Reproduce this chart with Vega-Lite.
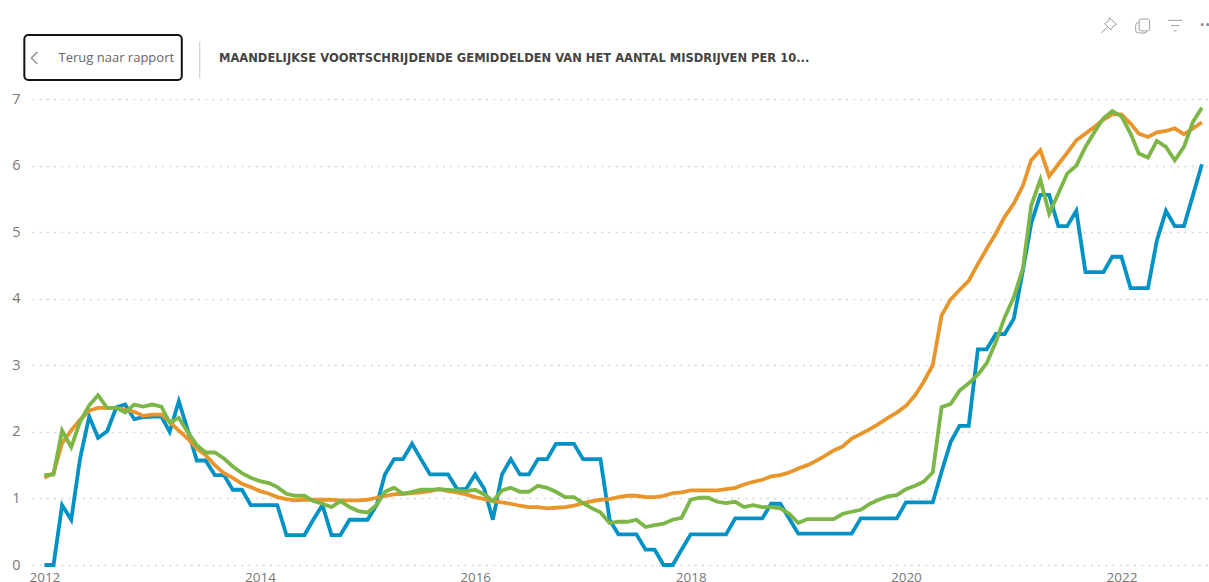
{
"$schema":"https://vega.github.io/schema/vega-lite/v6.json",
"width":1177,"height":466,
"autosize":{"type":"none"},
"padding":{"left":32,"top":99,"right":0,"bottom":17},
"background":"white",
"title":{"text":"MAANDELIJKSE VOORTSCHRIJDENDE GEMIDDELDEN VAN HET AANTAL MISDRIJVEN PER 10...","anchor":"start","frame":"group","dx":187,"offset":-49,"font":"DejaVu Sans","fontSize":11.5,"fontWeight":"bold","color":"#444444"},
"config":{"view":{"stroke":null}},
"layer":[
{
"data":{"values":[
{"date":"2012-01-01","Blauw":0,"Oranje":1.31,"Groen":1.35},
{"date":"2012-02-01","Blauw":0,"Oranje":1.38,"Groen":1.36},
{"date":"2012-03-01","Blauw":0.9,"Oranje":1.83,"Groen":2.02},
{"date":"2012-04-01","Blauw":0.68,"Oranje":2.02,"Groen":1.77},
{"date":"2012-05-01","Blauw":1.6,"Oranje":2.18,"Groen":2.15},
{"date":"2012-06-01","Blauw":2.23,"Oranje":2.32,"Groen":2.4},
{"date":"2012-07-01","Blauw":1.91,"Oranje":2.36,"Groen":2.55},
{"date":"2012-08-01","Blauw":2.01,"Oranje":2.36,"Groen":2.36},
{"date":"2012-09-01","Blauw":2.37,"Oranje":2.36,"Groen":2.36},
{"date":"2012-10-01","Blauw":2.41,"Oranje":2.33,"Groen":2.29},
{"date":"2012-11-01","Blauw":2.19,"Oranje":2.3,"Groen":2.41},
{"date":"2012-12-01","Blauw":2.22,"Oranje":2.24,"Groen":2.38},
{"date":"2013-01-01","Blauw":2.23,"Oranje":2.26,"Groen":2.41},
{"date":"2013-02-01","Blauw":2.23,"Oranje":2.26,"Groen":2.38},
{"date":"2013-03-01","Blauw":2.0,"Oranje":2.15,"Groen":2.14},
{"date":"2013-04-01","Blauw":2.46,"Oranje":2.02,"Groen":2.21},
{"date":"2013-05-01","Blauw":2.03,"Oranje":1.9,"Groen":2.0},
{"date":"2013-06-01","Blauw":1.57,"Oranje":1.75,"Groen":1.8},
{"date":"2013-07-01","Blauw":1.57,"Oranje":1.65,"Groen":1.69},
{"date":"2013-08-01","Blauw":1.35,"Oranje":1.5,"Groen":1.69},
{"date":"2013-09-01","Blauw":1.35,"Oranje":1.38,"Groen":1.6},
{"date":"2013-10-01","Blauw":1.13,"Oranje":1.31,"Groen":1.48},
{"date":"2013-11-01","Blauw":1.13,"Oranje":1.22,"Groen":1.38},
{"date":"2013-12-01","Blauw":0.9,"Oranje":1.17,"Groen":1.31},
{"date":"2014-01-01","Blauw":0.9,"Oranje":1.11,"Groen":1.26},
{"date":"2014-02-01","Blauw":0.9,"Oranje":1.07,"Groen":1.23},
{"date":"2014-03-01","Blauw":0.9,"Oranje":1.02,"Groen":1.17},
{"date":"2014-04-01","Blauw":0.45,"Oranje":0.99,"Groen":1.07},
{"date":"2014-05-01","Blauw":0.45,"Oranje":0.97,"Groen":1.04},
{"date":"2014-06-01","Blauw":0.45,"Oranje":0.98,"Groen":1.04},
{"date":"2014-07-01","Blauw":0.68,"Oranje":0.98,"Groen":0.96},
{"date":"2014-08-01","Blauw":0.9,"Oranje":0.98,"Groen":0.92},
{"date":"2014-09-01","Blauw":0.45,"Oranje":0.98,"Groen":0.87},
{"date":"2014-10-01","Blauw":0.45,"Oranje":0.97,"Groen":0.96},
{"date":"2014-11-01","Blauw":0.68,"Oranje":0.97,"Groen":0.87},
{"date":"2014-12-01","Blauw":0.68,"Oranje":0.97,"Groen":0.81},
{"date":"2015-01-01","Blauw":0.68,"Oranje":0.98,"Groen":0.79},
{"date":"2015-02-01","Blauw":0.9,"Oranje":1.01,"Groen":0.9},
{"date":"2015-03-01","Blauw":1.36,"Oranje":1.04,"Groen":1.1},
{"date":"2015-04-01","Blauw":1.59,"Oranje":1.06,"Groen":1.16},
{"date":"2015-05-01","Blauw":1.59,"Oranje":1.07,"Groen":1.07},
{"date":"2015-06-01","Blauw":1.82,"Oranje":1.08,"Groen":1.1},
{"date":"2015-07-01","Blauw":1.59,"Oranje":1.09,"Groen":1.13},
{"date":"2015-08-01","Blauw":1.36,"Oranje":1.11,"Groen":1.13},
{"date":"2015-09-01","Blauw":1.36,"Oranje":1.14,"Groen":1.14},
{"date":"2015-10-01","Blauw":1.36,"Oranje":1.11,"Groen":1.13},
{"date":"2015-11-01","Blauw":1.14,"Oranje":1.09,"Groen":1.12},
{"date":"2015-12-01","Blauw":1.14,"Oranje":1.06,"Groen":1.11},
{"date":"2016-01-01","Blauw":1.36,"Oranje":1.02,"Groen":1.13},
{"date":"2016-02-01","Blauw":1.14,"Oranje":0.99,"Groen":1.06},
{"date":"2016-03-01","Blauw":0.68,"Oranje":0.96,"Groen":0.96},
{"date":"2016-04-01","Blauw":1.36,"Oranje":0.94,"Groen":1.12},
{"date":"2016-05-01","Blauw":1.59,"Oranje":0.92,"Groen":1.16},
{"date":"2016-06-01","Blauw":1.36,"Oranje":0.89,"Groen":1.1},
{"date":"2016-07-01","Blauw":1.36,"Oranje":0.87,"Groen":1.1},
{"date":"2016-08-01","Blauw":1.59,"Oranje":0.87,"Groen":1.19},
{"date":"2016-09-01","Blauw":1.59,"Oranje":0.85,"Groen":1.16},
{"date":"2016-10-01","Blauw":1.82,"Oranje":0.86,"Groen":1.1},
{"date":"2016-11-01","Blauw":1.82,"Oranje":0.87,"Groen":1.02},
{"date":"2016-12-01","Blauw":1.82,"Oranje":0.89,"Groen":1.02},
{"date":"2017-01-01","Blauw":1.59,"Oranje":0.93,"Groen":0.93},
{"date":"2017-02-01","Blauw":1.59,"Oranje":0.96,"Groen":0.85},
{"date":"2017-03-01","Blauw":1.59,"Oranje":0.98,"Groen":0.79},
{"date":"2017-04-01","Blauw":0.68,"Oranje":0.99,"Groen":0.63},
{"date":"2017-05-01","Blauw":0.46,"Oranje":1.02,"Groen":0.65},
{"date":"2017-06-01","Blauw":0.46,"Oranje":1.04,"Groen":0.65},
{"date":"2017-07-01","Blauw":0.46,"Oranje":1.04,"Groen":0.68},
{"date":"2017-08-01","Blauw":0.23,"Oranje":1.02,"Groen":0.57},
{"date":"2017-09-01","Blauw":0.23,"Oranje":1.02,"Groen":0.6},
{"date":"2017-10-01","Blauw":0,"Oranje":1.04,"Groen":0.62},
{"date":"2017-11-01","Blauw":0,"Oranje":1.08,"Groen":0.68},
{"date":"2017-12-01","Blauw":0.23,"Oranje":1.09,"Groen":0.71},
{"date":"2018-01-01","Blauw":0.46,"Oranje":1.12,"Groen":0.98},
{"date":"2018-02-01","Blauw":0.46,"Oranje":1.12,"Groen":1.01},
{"date":"2018-03-01","Blauw":0.46,"Oranje":1.12,"Groen":1.01},
{"date":"2018-04-01","Blauw":0.46,"Oranje":1.12,"Groen":0.95},
{"date":"2018-05-01","Blauw":0.46,"Oranje":1.14,"Groen":0.93},
{"date":"2018-06-01","Blauw":0.7,"Oranje":1.16,"Groen":0.95},
{"date":"2018-07-01","Blauw":0.7,"Oranje":1.21,"Groen":0.87},
{"date":"2018-08-01","Blauw":0.7,"Oranje":1.25,"Groen":0.9},
{"date":"2018-09-01","Blauw":0.7,"Oranje":1.28,"Groen":0.87},
{"date":"2018-10-01","Blauw":0.92,"Oranje":1.33,"Groen":0.87},
{"date":"2018-11-01","Blauw":0.92,"Oranje":1.35,"Groen":0.85},
{"date":"2018-12-01","Blauw":0.7,"Oranje":1.39,"Groen":0.77},
{"date":"2019-01-01","Blauw":0.47,"Oranje":1.45,"Groen":0.63},
{"date":"2019-02-01","Blauw":0.47,"Oranje":1.5,"Groen":0.69},
{"date":"2019-03-01","Blauw":0.47,"Oranje":1.56,"Groen":0.69},
{"date":"2019-04-01","Blauw":0.47,"Oranje":1.64,"Groen":0.69},
{"date":"2019-05-01","Blauw":0.47,"Oranje":1.72,"Groen":0.69},
{"date":"2019-06-01","Blauw":0.47,"Oranje":1.78,"Groen":0.77},
{"date":"2019-07-01","Blauw":0.47,"Oranje":1.9,"Groen":0.8},
{"date":"2019-08-01","Blauw":0.7,"Oranje":1.97,"Groen":0.83},
{"date":"2019-09-01","Blauw":0.7,"Oranje":2.04,"Groen":0.92},
{"date":"2019-10-01","Blauw":0.7,"Oranje":2.12,"Groen":0.98},
{"date":"2019-11-01","Blauw":0.7,"Oranje":2.21,"Groen":1.03},
{"date":"2019-12-01","Blauw":0.7,"Oranje":2.29,"Groen":1.05},
{"date":"2020-01-01","Blauw":0.94,"Oranje":2.39,"Groen":1.14},
{"date":"2020-02-01","Blauw":0.94,"Oranje":2.55,"Groen":1.19},
{"date":"2020-03-01","Blauw":0.94,"Oranje":2.75,"Groen":1.25},
{"date":"2020-04-01","Blauw":0.94,"Oranje":3.0,"Groen":1.39},
{"date":"2020-05-01","Blauw":1.4,"Oranje":3.75,"Groen":2.37},
{"date":"2020-06-01","Blauw":1.85,"Oranje":3.99,"Groen":2.42},
{"date":"2020-07-01","Blauw":2.09,"Oranje":4.13,"Groen":2.62},
{"date":"2020-08-01","Blauw":2.09,"Oranje":4.27,"Groen":2.73},
{"date":"2020-09-01","Blauw":3.24,"Oranje":4.52,"Groen":2.86},
{"date":"2020-10-01","Blauw":3.24,"Oranje":4.75,"Groen":3.03},
{"date":"2020-11-01","Blauw":3.47,"Oranje":4.98,"Groen":3.35},
{"date":"2020-12-01","Blauw":3.47,"Oranje":5.23,"Groen":3.72},
{"date":"2021-01-01","Blauw":3.7,"Oranje":5.43,"Groen":4.02},
{"date":"2021-02-01","Blauw":4.43,"Oranje":5.7,"Groen":4.46},
{"date":"2021-03-01","Blauw":5.13,"Oranje":6.08,"Groen":5.4},
{"date":"2021-04-01","Blauw":5.56,"Oranje":6.23,"Groen":5.79},
{"date":"2021-05-01","Blauw":5.56,"Oranje":5.84,"Groen":5.28},
{"date":"2021-06-01","Blauw":5.09,"Oranje":6.02,"Groen":5.58},
{"date":"2021-07-01","Blauw":5.09,"Oranje":6.19,"Groen":5.88},
{"date":"2021-08-01","Blauw":5.32,"Oranje":6.38,"Groen":6.0},
{"date":"2021-09-01","Blauw":4.4,"Oranje":6.48,"Groen":6.28},
{"date":"2021-10-01","Blauw":4.4,"Oranje":6.58,"Groen":6.5},
{"date":"2021-11-01","Blauw":4.4,"Oranje":6.69,"Groen":6.71},
{"date":"2021-12-01","Blauw":4.63,"Oranje":6.77,"Groen":6.82},
{"date":"2022-01-01","Blauw":4.63,"Oranje":6.77,"Groen":6.74},
{"date":"2022-02-01","Blauw":4.16,"Oranje":6.63,"Groen":6.48},
{"date":"2022-03-01","Blauw":4.16,"Oranje":6.48,"Groen":6.18},
{"date":"2022-04-01","Blauw":4.16,"Oranje":6.43,"Groen":6.12},
{"date":"2022-05-01","Blauw":4.87,"Oranje":6.5,"Groen":6.37},
{"date":"2022-06-01","Blauw":5.32,"Oranje":6.52,"Groen":6.28},
{"date":"2022-07-01","Blauw":5.09,"Oranje":6.56,"Groen":6.08},
{"date":"2022-08-01","Blauw":5.09,"Oranje":6.47,"Groen":6.28},
{"date":"2022-09-01","Blauw":5.56,"Oranje":6.56,"Groen":6.66},
{"date":"2022-10-01","Blauw":6.02,"Oranje":6.65,"Groen":6.87}
]},
"transform":[{"fold":["Blauw","Oranje","Groen"],"as":["reeks","waarde"]}],
"mark":{"type":"line","strokeWidth":3.8,"strokeJoin":"miter","clip":false},
"encoding":{
"x":{"field":"date","type":"temporal",
"scale":{"type":"utc","domain":[{"year":2011,"month":11,"date":20,"utc":true},{"year":2022,"month":10,"date":25,"utc":true}]},
"axis":{"title":null,"grid":false,"domain":false,"ticks":false,"tickCount":{"interval":"year","step":2},"labelExpr":"utcFormat(datum.value,'%Y')","labelFont":"Open Sans","labelFontSize":13.5,"labelColor":"#777777","labelPadding":5,"labelBaseline":"top","labelFlush":false,"labelOverlap":false}},
"y":{"field":"waarde","type":"quantitative",
"scale":{"domain":[0,7],"nice":false,"zero":true},
"axis":{"title":null,"domain":false,"ticks":false,"values":[0,1,2,3,4,5,6,7],"format":"d","labelFont":"Open Sans","labelFontSize":14.5,"labelColor":"#777777","labelPadding":12,"grid":true,"gridColor":"#d4d4d4","gridWidth":1.6,"gridDash":[2,5.2]}},
"color":{"field":"reeks","type":"nominal","legend":null,"sort":["Blauw","Oranje","Groen"],"scale":{"domain":["Blauw","Oranje","Groen"],"range":["#0091C5","#E8952C","#7BB646"]}},
"order":{"field":"date","type":"temporal"}
}
},
{
"data":{"values":[{"knop":"Terug naar rapport"}]},
"mark":{"type":"rect","fill":"white","stroke":"#111111","strokeWidth":2,"cornerRadius":4,"clip":false},
"encoding":{
"x":{"datum":{"year":2011,"month":10,"date":25,"utc":true},"type":"temporal"},
"x2":{"datum":{"year":2013,"month":4,"date":11,"utc":true}},
"y":{"datum":7.96,"type":"quantitative"},
"y2":{"datum":7.285}
}
},
{
"data":{"values":[{"knop":"Terug naar rapport"}]},
"mark":{"type":"text","font":"Open Sans","fontSize":13,"color":"#666666","align":"center","baseline":"middle","clip":false},
"encoding":{
"text":{"field":"knop"},
"x":{"datum":{"year":2012,"month":9,"date":1,"utc":true},"type":"temporal"},
"y":{"datum":7.616,"type":"quantitative"}
}
},
{
"data":{"values":[{"icoon":"terug"}]},
"mark":{"type":"point","shape":"M0.5,-1L-0.5,0L0.5,1","size":144,"filled":false,"stroke":"#555555","strokeWidth":1.2,"clip":false},
"encoding":{
"x":{"datum":{"year":2011,"month":11,"date":28,"utc":true},"type":"temporal"},
"y":{"datum":7.616,"type":"quantitative"}
}
},
{
"data":{"values":[{"icoon":"scheiding"}]},
"mark":{"type":"rule","stroke":"#c8c8c8","strokeWidth":1,"clip":false},
"encoding":{
"x":{"datum":{"year":2013,"month":6,"date":11,"utc":true},"type":"temporal"},
"y":{"datum":7.856,"type":"quantitative"},
"y2":{"datum":7.316}
}
},
{
"data":{"values":[{"icoon":"speld"}]},
"mark":{"type":"point","shape":"M0.15,-1L1,-0.2L0.6,0L0.3,0.5L-0.5,-0.3L0,-0.6ZM-0.15,0.15L-0.9,0.9","size":256,"filled":false,"stroke":"#777777","strokeWidth":1,"clip":false},
"encoding":{
"x":{"datum":{"year":2021,"month":11,"date":18,"utc":true},"type":"temporal"},
"y":{"datum":8.097,"type":"quantitative"}
}
},
{
"data":{"values":[{"icoon":"kopie"}]},
"mark":{"type":"point","shape":"M-0.5,-0.7Q-0.5,-1,-0.2,-1L0.7,-1Q1,-1,1,-0.7L1,0.4Q1,0.7,0.7,0.7L-0.2,0.7Q-0.5,0.7,-0.5,0.4ZM-0.5,-0.5Q-1,-0.5,-1,-0.1L-1,0.6Q-1,1,-0.6,1L0.2,1Q0.6,1,0.6,0.7","size":196,"filled":false,"stroke":"#777777","strokeWidth":1,"clip":false},
"encoding":{
"x":{"datum":{"year":2022,"month":3,"date":14,"utc":true},"type":"temporal"},
"y":{"datum":8.097,"type":"quantitative"}
}
},
{
"data":{"values":[{"icoon":"filter"}]},
"mark":{"type":"point","shape":"M-1,-0.8L1,-0.8M-0.6,-0.05L0.6,-0.05M-0.2,0.7L0.2,0.7","size":196,"filled":false,"stroke":"#777777","strokeWidth":1,"clip":false},
"encoding":{
"x":{"datum":{"year":2022,"month":7,"date":2,"utc":true},"type":"temporal"},
"y":{"datum":8.097,"type":"quantitative"}
}
},
{
"data":{"values":[{"icoon":"··"}]},
"mark":{"type":"text","font":"DejaVu Sans","fontSize":14,"fontWeight":"bold","color":"#888888","align":"center","baseline":"middle","clip":false},
"encoding":{
"text":{"field":"icoon"},
"x":{"datum":{"year":2022,"month":10,"date":11,"utc":true},"type":"temporal"},
"y":{"datum":8.097,"type":"quantitative"}
}
}
]
}
